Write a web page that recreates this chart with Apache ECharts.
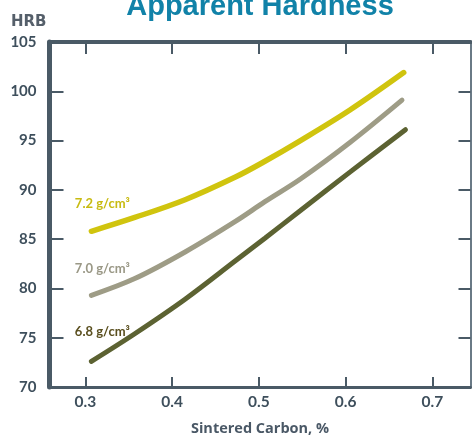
<!DOCTYPE html>
<html>
<head>
<meta charset="utf-8">
<script src="https://cdn.jsdelivr.net/npm/echarts@6/dist/echarts.min.js"></script>
<style>
html,body{margin:0;padding:0;background:#fff;}
#c{width:472px;height:441px;}
</style>
</head>
<body>
<div id="c"></div>
<script>
// Data
var xTicks = [0.3, 0.4, 0.5, 0.6, 0.7];
var yTicks = [70, 75, 80, 85, 90, 95, 100, 105];

var x72 = [0.307, 0.357, 0.415, 0.473, 0.507, 0.548, 0.605, 0.667];
var y72 = [85.8, 87.2, 89.0, 91.3, 92.9, 95.0, 98.1, 101.9];

var x70 = [0.307, 0.357, 0.415, 0.473, 0.507, 0.548, 0.605, 0.665];
var y70 = [79.3, 81.0, 83.7, 86.8, 88.8, 91.1, 94.8, 99.1];

var x68 = [0.307, 0.357, 0.415, 0.473, 0.507, 0.548, 0.605, 0.669];
var y68 = [72.6, 75.4, 78.9, 82.8, 85.1, 87.9, 91.8, 96.1];

var seriesNames = ['7.2 g/cm³', '7.0 g/cm³', '6.8 g/cm³'];

var axisColor = '#4a5a66';
var labelColor = '#3e4f5c';

function build(xs, ys, name, labelColor, offset) {
  return xs.map(function (x, i) {
    var item = { value: [x, ys[i]] };
    if (i === 0) {
      item.label = {
        show: true,
        formatter: name,
        position: 'top',
        offset: offset,
        color: labelColor,
        fontFamily: 'Lato',
        fontWeight: 'bold',
        fontSize: 13
      };
    }
    return item;
  });
}

var chart = echarts.init(document.getElementById('c'), null, { renderer: 'canvas' });

var xMin = 0.2587, xMax = 0.744;

var option = {
  backgroundColor: '#ffffff',
  animation: false,
  title: [
    {
      text: 'HRB',
      left: 6,
      top: 10,
      textStyle: { color: '#555f6a', fontFamily: 'DejaVu Sans', fontWeight: 'bold', fontSize: 15 }
    }
  ],
  graphic: [
    {
      type: 'text',
      x: 260,
      y: 7,
      style: {
        text: 'Apparent Hardness',
        align: 'center',
        verticalAlign: 'middle',
        fill: '#1182a8',
        font: 'bold 29px "Liberation Sans", Arial, sans-serif'
      }
    }
  ],
  grid: { left: 49.5, right: 1.5, top: 42, bottom: 45.5, containLabel: false },
  xAxis: [
    {
      type: 'value',
      position: 'bottom',
      min: xMin,
      max: xMax,
      name: 'Sintered Carbon, %',
      nameLocation: 'middle',
      nameGap: 34,
      nameTextStyle: { color: '#4a5866', fontFamily: 'Open Sans', fontWeight: 'bold', fontSize: 14.5 },
      axisLine: { show: true, lineStyle: { color: axisColor, width: 3 } },
      axisTick: { show: true, inside: true, length: 10, customValues: xTicks, lineStyle: { color: axisColor, width: 2 } },
      axisLabel: {
        customValues: xTicks,
        margin: 7,
        color: labelColor,
        fontFamily: 'Lato',
        fontWeight: 'bold',
        fontSize: 15.5,
        formatter: function (v) { return v.toFixed(1); }
      },
      splitLine: { show: false }
    },
    {
      type: 'value',
      position: 'top',
      min: xMin,
      max: xMax,
      axisLine: { show: true, lineStyle: { color: axisColor, width: 4 } },
      axisTick: { show: true, inside: true, length: 12, customValues: xTicks, lineStyle: { color: axisColor, width: 2 } },
      axisLabel: { show: false },
      splitLine: { show: false }
    }
  ],
  yAxis: [
    {
      type: 'value',
      position: 'left',
      min: 70,
      max: 105,
      interval: 5,
      axisLine: { show: true, lineStyle: { color: axisColor, width: 5 } },
      axisTick: { show: true, inside: true, length: 14, lineStyle: { color: axisColor, width: 2 } },
      axisLabel: {
        margin: 13,
        color: labelColor,
        fontFamily: 'Lato',
        fontWeight: 'bold',
        fontSize: 15
      },
      splitLine: { show: false }
    },
    {
      type: 'value',
      position: 'right',
      min: 70,
      max: 105,
      interval: 5,
      axisLine: { show: true, lineStyle: { color: '#6a7a86', width: 2 } },
      axisTick: { show: true, inside: true, length: 12, lineStyle: { color: axisColor, width: 2 } },
      axisLabel: { show: false },
      splitLine: { show: false }
    }
  ],
  series: [
    {
      name: seriesNames[0],
      type: 'line',
      smooth: 0.35,
      symbol: 'circle',
      symbolSize: 0,
      showSymbol: true,
      lineStyle: { color: '#d0c40e', width: 5.5, cap: 'round' },
      itemStyle: { color: '#d0c40e' },
      data: build(x72, y72, seriesNames[0], '#c8bb12', [11, -16])
    },
    {
      name: seriesNames[1],
      type: 'line',
      smooth: 0.35,
      symbol: 'circle',
      symbolSize: 0,
      showSymbol: true,
      lineStyle: { color: '#9e9c86', width: 5, cap: 'round' },
      itemStyle: { color: '#9e9c86' },
      data: build(x70, y70, seriesNames[1], '#9a9886', [11, -15])
    },
    {
      name: seriesNames[2],
      type: 'line',
      smooth: 0.35,
      symbol: 'circle',
      symbolSize: 0,
      showSymbol: true,
      lineStyle: { color: '#5c6232', width: 5, cap: 'round' },
      itemStyle: { color: '#5c6232' },
      data: build(x68, y68, seriesNames[2], '#5a4f1f', [11, -18])
    }
  ]
};

chart.setOption(option);
</script>
</body>
</html>
